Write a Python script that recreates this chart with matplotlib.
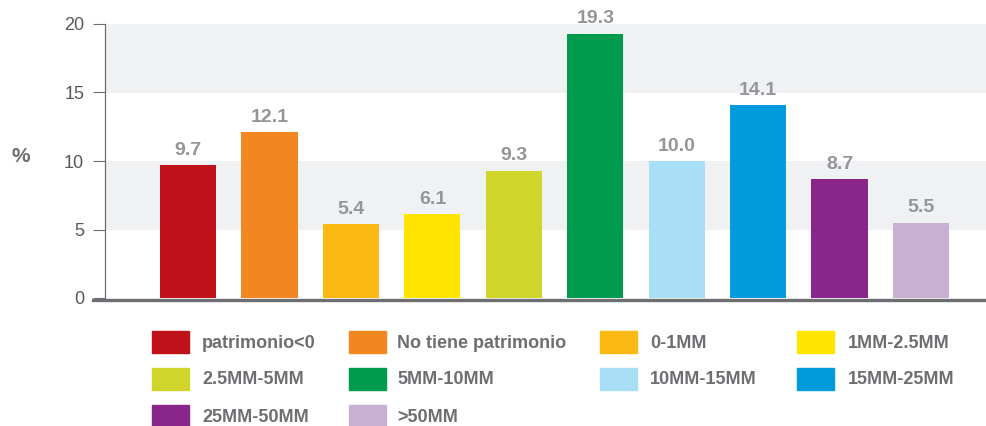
import matplotlib.pyplot as plt
from matplotlib.patches import Rectangle

plt.rcParams['font.family'] = ['Liberation Sans', 'DejaVu Sans']

categories = ['patrimonio<0', 'No tiene patrimonio', '0-1MM', '1MM-2.5MM',
              '2.5MM-5MM', '5MM-10MM', '10MM-15MM', '15MM-25MM',
              '25MM-50MM', '>50MM']
values = [9.7, 12.1, 5.4, 6.1, 9.3, 19.3, 10.0, 14.1, 8.7, 5.5]
colors = ['#be111a', '#f28621', '#fcb813', '#ffe500', '#d0d52b',
          '#009b4d', '#a8dff7', '#009bdd', '#8a2589', '#c9afd4']
yticks = [0, 5, 10, 15, 20]

W, H = 987, 426
fig = plt.figure(figsize=(W / 100, H / 100), dpi=100)
ax = fig.add_axes([105 / W, 1 - 298 / H, 1 - 105 / W, 274 / H])

# grey bands
ax.axhspan(5, 10, color='#f0f1f3', zorder=0, lw=0)
ax.axhspan(15, 20, color='#f0f1f3', zorder=0, lw=0)

x = list(range(len(values)))
ax.bar(x, values, width=0.69, color=colors, zorder=2)
for xi, v in zip(x, values):
    ax.text(xi, v + 0.45, f'{v:.1f}', ha='center', va='bottom',
            fontsize=14, fontweight='bold', color='#939598')

ax.set_xlim(-1.02, 9.81)
ax.set_ylim(0, 20)
ax.set_yticks(yticks)
ax.set_xticks([])
ax.tick_params(axis='y', length=9, width=0.8, color='#6d6e71',
               labelcolor='#58595b', labelsize=13, pad=6)
for s in ['top', 'right', 'bottom']:
    ax.spines[s].set_visible(False)
ax.spines['left'].set_color('#6d6e71')
ax.spines['left'].set_linewidth(0.9)

# thick baseline
fig.add_artist(plt.Line2D([93 / W, 1], [1 - 299.5 / H, 1 - 299.5 / H],
                          color='#6d6e71', lw=2.4))

fig.text(21 / W, 1 - 156 / H, '%', fontsize=15, fontweight='bold',
         color='#6d6e71', ha='center', va='center')

# legend
patch_x = [152, 349, 600, 797]
text_x = [202, 397, 650, 848]
row_y = [331, 368, 405]
for i, (lab, c) in enumerate(zip(categories, colors)):
    r, col = divmod(i, 4)
    y0 = row_y[r]
    fig.add_artist(Rectangle((patch_x[col] / W, 1 - (y0 + 22) / H),
                             37 / W, 22 / H, color=c, transform=fig.transFigure))
    fig.text(text_x[col] / W, 1 - (y0 + 12) / H, lab, fontsize=13,
             fontweight='bold', color='#6d6e71', va='center', ha='left')

fig.savefig('out.png', dpi=100)
